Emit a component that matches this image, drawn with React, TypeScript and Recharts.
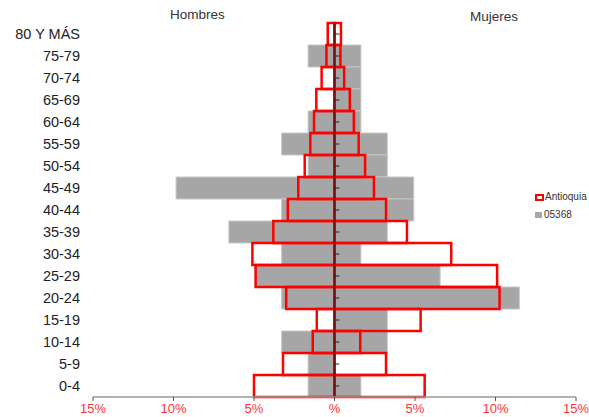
import { Bar, BarChart, ReferenceLine, XAxis, YAxis } from 'recharts';

const ageGroups = ['80 Y MÁS', '75-79', '70-74', '65-69', '60-64', '55-59', '50-54', '45-49', '40-44', '35-39', '30-34', '25-29', '20-24', '15-19', '10-14', '5-9', '0-4'];

// 05368 (gray)
const muniMen = [0, 1.64, 0, 0, 1.64, 3.28, 1.64, 9.84, 3.28, 6.56, 3.28, 4.92, 3.28, 0, 3.28, 1.64, 1.64];
const muniWomen = [0, 1.64, 1.64, 1.64, 1.64, 3.28, 3.28, 4.92, 4.92, 3.28, 1.64, 6.56, 11.48, 3.28, 3.28, 0, 1.64];

// Antioquia (red outline)
const deptMen = [0.42, 0.5, 0.8, 1.13, 1.27, 1.5, 1.85, 2.25, 2.9, 3.8, 5.1, 4.9, 3.0, 1.1, 1.35, 3.2, 5.0];
const deptWomen = [0.4, 0.37, 0.6, 0.95, 1.2, 1.5, 1.9, 2.45, 3.2, 4.5, 7.25, 10.1, 10.25, 5.35, 1.6, 3.2, 5.6];

const xTicks = [-15, -10, -5, 0, 5, 10, 15];

const data = ageGroups.map((age, i) => ({
  age,
  gM: -muniMen[i],
  gW: muniWomen[i],
  rM: -deptMen[i],
  rW: deptWomen[i],
}));

const font = '"Liberation Sans", Arial, sans-serif';

function LegendBox() {
  return (
    <div style={{ position: 'absolute', left: 535, top: 188, fontFamily: font, fontSize: 10, color: '#333', lineHeight: '18px' }}>
      <div style={{ display: 'flex', alignItems: 'center' }}>
        <span style={{ display: 'inline-block', width: 5, height: 3, border: '2px solid #ff0000', background: '#fff', marginRight: 1 }} />
        Antioquia
      </div>
      <div style={{ display: 'flex', alignItems: 'center' }}>
        <span style={{ display: 'inline-block', width: 7, height: 6, background: '#a6a6a6', marginRight: 2 }} />
        05368
      </div>
    </div>
  );
}

export default function App() {
  return (
    <div style={{ position: 'absolute', left: 0, top: 0, width: 589, height: 417, background: '#fff', fontFamily: font }}>
      <BarChart
        width={589}
        height={417}
        data={data}
        layout="vertical"
        stackOffset="sign"
        barCategoryGap={0}
        barGap={0}
        margin={{ top: 23, right: 13, bottom: 0, left: 0 }}
      >
        <XAxis
          type="number"
          domain={[-15, 15]}
          ticks={xTicks}
          tickFormatter={(v: number) => (v === 0 ? '%' : `${Math.abs(v)}%`)}
          tick={{ fill: '#ff3333', fontSize: 13, fontFamily: font }}
          axisLine={{ stroke: '#9a9a9a', strokeWidth: 1.5 }}
          tickLine={{ stroke: '#555' }}
          tickSize={4}
          tickMargin={3}
          height={20}
        />
        <YAxis
          yAxisId="g"
          type="category"
          dataKey="age"
          width={93}
          interval={0}
          axisLine={false}
          tickLine={false}
          tickSize={6}
          tickMargin={7}
          tick={{ fill: '#222', fontSize: 14.5, fontFamily: font }}
        />
        <YAxis yAxisId="r" type="category" dataKey="age" hide />
        <Bar yAxisId="g" dataKey="gM" stackId="g" fill="#a6a6a6" stroke="#c6c6c6" strokeWidth={1} isAnimationActive={false} />
        <Bar yAxisId="g" dataKey="gW" stackId="g" fill="#a6a6a6" stroke="#c6c6c6" strokeWidth={1} isAnimationActive={false} />
        <Bar yAxisId="r" dataKey="rM" stackId="r" fill="none" stroke="#ff0000" strokeWidth={2.5} isAnimationActive={false} />
        <Bar yAxisId="r" dataKey="rW" stackId="r" fill="none" stroke="#ff0000" strokeWidth={2.5} isAnimationActive={false} />
        <ReferenceLine yAxisId="g" x={0} stroke="#7a1010" strokeWidth={2} />
        {ageGroups.map((age) => (
          <ReferenceLine
            key={age}
            yAxisId="g"
            segment={[{ x: 0, y: age }, { x: 0.3, y: age }]}
            stroke="#222"
            strokeWidth={1}
          />
        ))}
      </BarChart>
      <div style={{ position: 'absolute', left: 170, top: 7, fontSize: 13.5, color: '#333' }}>Hombres</div>
      <div style={{ position: 'absolute', left: 470, top: 9, fontSize: 13.5, color: '#333' }}>Mujeres</div>
      <LegendBox />
    </div>
  );
}
